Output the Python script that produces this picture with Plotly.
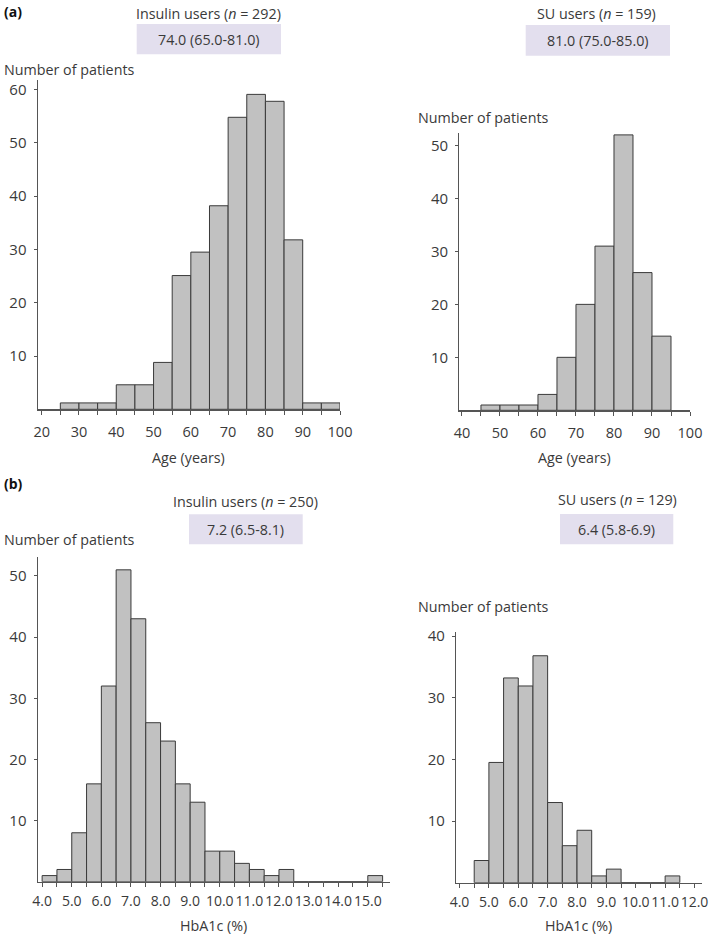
import plotly.graph_objects as go

W, H = 709, 936

# ---------------- data ----------------
# (a) Age, insulin users: bin starts (years) and counts
age_ins_bins = [25, 30, 35, 40, 45, 50, 55, 60, 65, 70, 75, 80, 85, 90, 95]
age_ins_counts = [1.2, 1.2, 1.2, 4.6, 4.6, 8.8, 25.1, 29.5, 38.2, 54.8, 59.1, 57.8, 31.8, 1.2, 1.2]
# (a) Age, SU users
age_su_bins = [45, 50, 55, 60, 65, 70, 75, 80, 85, 90]
age_su_counts = [1, 1, 1, 3, 10, 20, 31, 52, 26, 14]
# (b) HbA1c, insulin users
hba_ins_bins = [4.0, 4.5, 5.0, 5.5, 6.0, 6.5, 7.0, 7.5, 8.0, 8.5, 9.0, 9.5, 10.0, 10.5,
                11.0, 11.5, 12.0, 12.5, 13.0, 13.5, 14.0, 14.5, 15.0]
hba_ins_counts = [1, 2, 8, 16, 32, 51, 43, 26, 23, 16, 13, 5, 5, 3, 2, 1, 2, 0, 0, 0, 0, 0, 1]
# (b) HbA1c, SU users
hba_su_bins = [4.5, 5.0, 5.5, 6.0, 6.5, 7.0, 7.5, 8.0, 8.5, 9.0, 9.5, 10.0, 10.5, 11.0]
hba_su_counts = [3.6, 19.5, 33.2, 31.9, 36.8, 13.0, 6.0, 8.5, 1.1, 2.2, 0, 0, 0, 1.1]

age_width = 5
hba_width = 0.5

# tick values / labels
age_ins_tickvals = [20, 25, 30, 35, 40, 45, 50, 55, 60, 65, 70, 75, 80, 85, 90, 95, 100]
age_ins_ticktext = ["20", "", "30", "", "40", "", "50", "", "60", "", "70", "", "80", "", "90", "", "100"]
age_su_tickvals = [40, 45, 50, 55, 60, 65, 70, 75, 80, 85, 90, 95, 100]
age_su_ticktext = ["40", "", "50", "", "60", "", "70", "", "80", "", "90", "", "100"]
hba_ins_tickvals = [4.0, 4.5, 5.0, 5.5, 6.0, 6.5, 7.0, 7.5, 8.0, 8.5, 9.0, 9.5, 10.0, 10.5,
                    11.0, 11.5, 12.0, 12.5, 13.0, 13.5, 14.0, 14.5, 15.0, 15.5]
hba_ins_ticktext = ["4.0", "", "5.0", "", "6.0", "", "7.0", "", "8.0", "", "9.0", "", "10.0", "",
                    "11.0", "", "12.0", "", "13.0", "", "14.0", "", "15.0", ""]
hba_su_tickvals = [4.0, 4.5, 5.0, 5.5, 6.0, 6.5, 7.0, 7.5, 8.0, 8.5, 9.0, 9.5, 10.0, 10.5,
                   11.0, 11.5, 12.0]
hba_su_ticktext = ["4.0", "", "5.0", "", "6.0", "", "7.0", "", "8.0", "", "9.0", "", "10.0", "",
                   "11.0", "", "12.0"]
y_ticks_a_ins = [10, 20, 30, 40, 50, 60]
y_ticks_a_su = [10, 20, 30, 40, 50]
y_ticks_b_ins = [10, 20, 30, 40, 50]
y_ticks_b_su = [10, 20, 30, 40]

titles = ["Insulin users (<i>n</i> = 292)", "SU users (<i>n</i> = 159)",
          "Insulin users (<i>n</i> = 250)", "SU users (<i>n</i> = 129)"]
medians = ["74.0 (65.0-81.0)", "81.0 (75.0-85.0)", "7.2 (6.5-8.1)", "6.4 (5.8-6.9)"]

# ---------------- styling ----------------
FONT = "Open Sans"
TXT = "#3a3a3a"
AX = "#555555"
BAR_FILL = "#c1c1c1"
BAR_LINE = "#3a3a3a"
BOX = "#e3dfee"
TSIZE = 14.3


def fx(px):
    return px / W


def fy(py):
    return 1 - py / H


fig = go.Figure()

# bins, counts, width, xref, yref, xdom(px), ydom(px top,bottom), xrange, yrange,
# tickvals, ticktext, yticks, x tick font size, x label standoff
panels = [
    (age_ins_bins, age_ins_counts, age_width, "x", "y", (37.7, 340), (80, 409.3), [18.93, 100], [0, 61.8],
     age_ins_tickvals, age_ins_ticktext, y_ticks_a_ins, 14.5, 5),
    (age_su_bins, age_su_counts, age_width, "x2", "y2", (459.3, 690), (133.3, 410.3), [39.3, 100], [0, 52.3],
     age_su_tickvals, age_su_ticktext, y_ticks_a_su, 14.5, 5),
    (hba_ins_bins, hba_ins_counts, hba_width, "x3", "y3", (37.7, 390), (557, 881.7), [3.85, 15.75], [0, 53.1],
     hba_ins_tickvals, hba_ins_ticktext, y_ticks_b_ins, 14, 2),
    (hba_su_bins, hba_su_counts, hba_width, "x4", "y4", (456, 702), (631.7, 882.7), [3.88, 12.255], [0, 40.7],
     hba_su_tickvals, hba_su_ticktext, y_ticks_b_su, 14, 2),
]

layout_axes = {}
for i, (bins, counts, width, xr, yr, xd, yd, xrange_, yrange_, tv, tt, yt, xfs, xso) in enumerate(panels):
    fig.add_trace(go.Bar(
        x=bins, y=counts, width=width, offset=0,
        marker=dict(color=BAR_FILL, line=dict(color=BAR_LINE, width=1)),
        xaxis=xr, yaxis=yr, showlegend=False, hoverinfo="x+y",
    ))
    xname = "xaxis" if i == 0 else f"xaxis{i+1}"
    yname = "yaxis" if i == 0 else f"yaxis{i+1}"
    layout_axes[xname] = dict(
        domain=[fx(xd[0]), fx(xd[1])], anchor=yr, range=xrange_, automargin=False,
        showline=True, linecolor=AX, linewidth=1.2, mirror=False,
        ticks="outside", ticklen=4, tickwidth=1, tickcolor=AX,
        tickvals=tv, ticktext=tt, tickangle=0, ticklabelstandoff=xso,
        showgrid=False, zeroline=False, fixedrange=True,
        tickfont=dict(family=FONT, size=xfs, color=TXT),
    )
    layout_axes[yname] = dict(
        domain=[fy(yd[1]), fy(yd[0])], anchor=xr, range=yrange_, automargin=False,
        showline=True, linecolor=AX, linewidth=1.2,
        ticks="outside", ticklen=3, tickwidth=1, tickcolor=AX,
        tickvals=yt, ticklabelstandoff=4,
        showgrid=False, zeroline=False, fixedrange=True,
        tickfont=dict(family=FONT, size=15, color=TXT),
    )

fig.update_layout(**layout_axes)

ann = []
shapes = []


def text(x, y, s, anchor="center", size=TSIZE, bold=False):
    ann.append(dict(
        x=fx(x), y=fy(y), xref="paper", yref="paper", text=(f"<b>{s}</b>" if bold else s),
        showarrow=False, xanchor=anchor, yanchor="middle",
        font=dict(family=FONT, size=size, color=TXT if not bold else "#111111"),
    ))


text(1.5, 12, "(a)", anchor="left", size=14, bold=True)
text(1.5, 483, "(b)", anchor="left", size=14, bold=True)

headers = [
    (208, 13.5, (136.7, 281, 24, 54.3)),
    (596, 13.5, (525.7, 670, 25, 55.7)),
    (245, 501, (189, 302.7, 514.3, 544.3)),
    (617.7, 499, (560, 673.3, 514, 544.3)),
]
for (cx, ty, (x0, x1, y0, y1)), t, m in zip(headers, titles, medians):
    text(cx, ty, t)
    shapes.append(dict(type="rect", xref="paper", yref="paper",
                       x0=fx(x0), x1=fx(x1), y0=fy(y1), y1=fy(y0),
                       fillcolor=BOX, line=dict(width=0), layer="below"))
    text((x0 + x1) / 2, (y0 + y1) / 2 + 0.5, m)

text(1.5, 69.5, "Number of patients", anchor="left")
text(416, 117.3, "Number of patients", anchor="left")
text(1.5, 539.3, "Number of patients", anchor="left")
text(416, 606.7, "Number of patients", anchor="left")

text(189, 457.3, "Age (years)")
text(574.7, 457.3, "Age (years)")
text(213.5, 925.5, "HbA1c (%)")
text(578, 925, "HbA1c (%)")

fig.update_layout(
    width=W, height=H,
    margin=dict(l=0, r=0, t=0, b=0, autoexpand=False),
    paper_bgcolor="white", plot_bgcolor="white",
    bargap=0,
    annotations=ann, shapes=shapes,
    font=dict(family=FONT, size=14, color=TXT),
)

fig.write_html(
    "out.html",
    config={"displayModeBar": False, "staticPlot": True},
    post_script="document.body.style.margin='0';document.body.style.padding='0';",
)
